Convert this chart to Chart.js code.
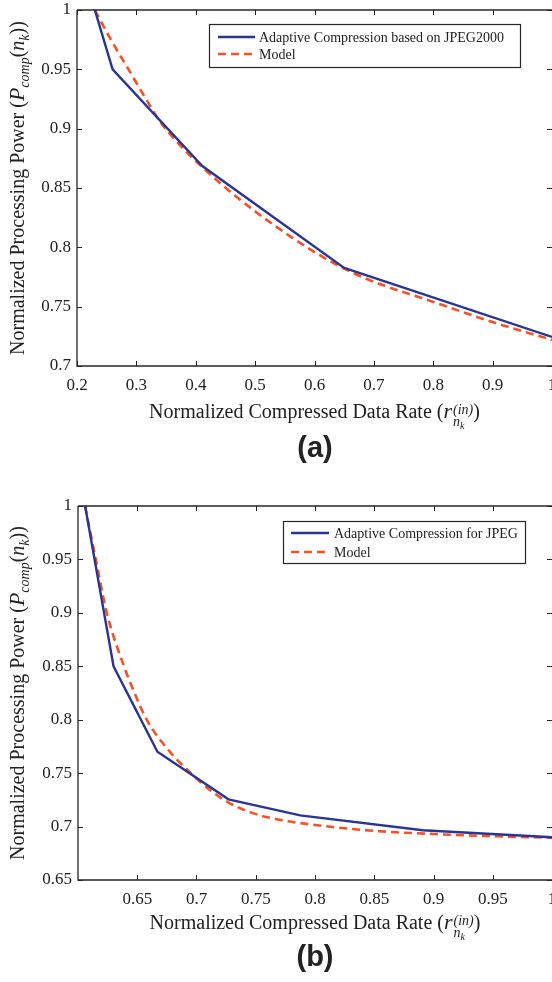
<!DOCTYPE html>
<html>
<head>
<meta charset="utf-8">
<script src="https://cdn.jsdelivr.net/npm/chart.js@4/dist/chart.umd.min.js"></script>
<style>
  html, body { margin: 0; padding: 0; background: #fff; }
  #wrap { position: relative; width: 552px; height: 982px; overflow: hidden; font-family: "Liberation Serif", "DejaVu Serif", serif; color: #222; }
  canvas { position: absolute; left: 0; }
  .xt { position: absolute; text-align: center; font-size: 20px; white-space: nowrap; line-height: 26px; }
  .yt { position: absolute; text-align: center; font-size: 20px; white-space: nowrap; line-height: 26px; transform: rotate(-90deg); }
  .ss { display: inline-block; vertical-align: -8px; line-height: 12px; font-size: 14px; text-align: left; margin-left: 1px; }
  .ss span { display: block; }
  .big { font-size: 22px; }
  sub { font-size: 14px; line-height: 0; }
  .sub2 { font-size: 10px; vertical-align: -3px; }
  .cap { position: absolute; font-family: "Liberation Sans", Arial, sans-serif; font-weight: bold; font-size: 29px; text-align: center; width: 100px; }
</style>
</head>
<body>
<div id="wrap">
  <canvas id="ca" width="552" height="400" style="top:0"></canvas>
  <canvas id="cb" width="552" height="424" style="top:490px"></canvas>

  <div class="yt" style="left:-161px; top:175px; width:356px;">Normalized Processing Power (<i class="big">P</i><sub><i>comp</i></sub>(<i>n</i><sub><i>k</i></sub>))</div>
  <div class="xt" style="left:77px; top:398px; width:475px;">Normalized Compressed Data Rate (<i class="big">r</i><span class="ss"><span><i>(in)</i></span><span><i>n</i><i class="sub2">k</i></span></span>)</div>
  <div class="cap" style="left:265px; top:431px;">(a)</div>

  <div class="yt" style="left:-170px; top:680px; width:374px;">Normalized Processing Power (<i class="big">P</i><sub><i>comp</i></sub>(<i>n</i><sub><i>k</i></sub>))</div>
  <div class="xt" style="left:78px; top:909px; width:474px;">Normalized Compressed Data Rate (<i class="big">r</i><span class="ss"><span><i>(in)</i></span><span><i>n</i><i class="sub2">k</i></span></span>)</div>
  <div class="cap" style="left:265px; top:940px;">(b)</div>
</div>

<script>
// (a) JPEG2000
const adaptA_x = [0.23, 0.26, 0.411, 0.65, 1.0];
const adaptA_y = [1.0, 0.95, 0.8685, 0.7826, 0.7245];
const modelA_x = [0.23, 0.256, 0.289, 0.315, 0.34, 0.37, 0.41, 0.47, 0.531, 0.6, 0.65, 0.7, 0.8, 0.9, 1.0];
const modelA_y = [1.0, 0.976, 0.948, 0.926, 0.906, 0.888, 0.868, 0.842, 0.819, 0.796, 0.782, 0.771, 0.754, 0.737, 0.722];
const xTicksA = ['0.2', '0.3', '0.4', '0.5', '0.6', '0.7', '0.8', '0.9', '1'];
const yTicksA = ['0.7', '0.75', '0.8', '0.85', '0.9', '0.95', '1'];

// (b) JPEG
const adaptB_x = [0.606, 0.63, 0.667, 0.727, 0.7875, 0.891, 1.0];
const adaptB_y = [1.0, 0.85, 0.77, 0.7255, 0.7105, 0.6965, 0.69];
const modelB_x = [0.606, 0.615, 0.6243, 0.6388, 0.6466, 0.658, 0.676, 0.7, 0.714, 0.727, 0.745, 0.767, 0.8, 0.85, 0.9, 0.95, 1.0];
const modelB_y = [1.0, 0.95, 0.9, 0.85, 0.828, 0.8, 0.772, 0.745, 0.732, 0.7225, 0.7135, 0.707, 0.7015, 0.696, 0.693, 0.691, 0.6895];
const xTicksB = ['0.65', '0.7', '0.75', '0.8', '0.85', '0.9', '0.95', '1'];
const yTicksB = ['0.65', '0.7', '0.75', '0.8', '0.85', '0.9', '0.95', '1'];

const BLUE = '#2b3590';
const RED = '#f4532a';
const AXIS = '#262626';

const pts = (xs, ys) => xs.map((x, i) => ({ x, y: ys[i] }));

// matlab style box, inward ticks and boxed legend
const matlabFrame = {
  id: 'matlabFrame',
  afterDraw(chart, args, opts) {
    const { ctx, chartArea: a, scales: { x, y } } = chart;
    ctx.save();
    ctx.strokeStyle = AXIS;
    ctx.lineWidth = 1.3;
    ctx.beginPath();
    ctx.moveTo(a.left, a.top); ctx.lineTo(a.right, a.top);
    ctx.moveTo(a.left, a.top); ctx.lineTo(a.left, a.bottom); ctx.lineTo(a.right, a.bottom);
    ctx.stroke();

    ctx.lineWidth = 1;
    ctx.beginPath();
    x.ticks.forEach(t => {
      const px = Math.round(x.getPixelForValue(t.value)) + 0.5;
      ctx.moveTo(px, a.bottom); ctx.lineTo(px, a.bottom - 5);
      ctx.moveTo(px, a.top); ctx.lineTo(px, a.top + 5);
    });
    y.ticks.forEach(t => {
      const py = Math.round(y.getPixelForValue(t.value)) + 0.5;
      ctx.moveTo(a.left, py); ctx.lineTo(a.left + 5, py);
      ctx.moveTo(a.right, py); ctx.lineTo(a.right - 5, py);
    });
    ctx.stroke();

    // legend
    const L = opts.legend;
    if (L) {
      ctx.fillStyle = '#fff';
      ctx.fillRect(L.left, L.top, L.right - L.left, L.bottom - L.top);
      ctx.strokeStyle = AXIS;
      ctx.lineWidth = 1.2;
      ctx.strokeRect(L.left + 0.5, L.top + 0.5, L.right - L.left, L.bottom - L.top);
      ctx.font = '14px "Liberation Serif", serif';
      ctx.textBaseline = 'middle';
      chart.data.datasets.forEach((ds, i) => {
        const ry = L.rows[i];
        ctx.strokeStyle = ds.borderColor;
        ctx.lineWidth = ds.borderWidth;
        ctx.setLineDash(ds.borderDash || []);
        ctx.beginPath();
        ctx.moveTo(L.lineFrom, ry); ctx.lineTo(L.lineTo, ry);
        ctx.stroke();
        ctx.setLineDash([]);
        ctx.fillStyle = '#222';
        ctx.fillText(ds.label, L.textX, ry + 1);
      });
    }
    ctx.restore();
  }
};

function makeChart(id, cfg) {
  const tickFont = { family: '"Liberation Serif", serif', size: 17 };
  return new Chart(document.getElementById(id), {
    type: 'line',
    data: {
      datasets: [
        { label: cfg.labels[0], data: pts(cfg.ax, cfg.ay), borderColor: BLUE, borderWidth: 2.4, pointRadius: 0, tension: 0 },
        { label: cfg.labels[1], data: pts(cfg.mx, cfg.my), borderColor: RED, borderWidth: 2.6, borderDash: [8, 5], pointRadius: 0, cubicInterpolationMode: 'monotone' }
      ]
    },
    options: {
      responsive: false,
      animation: false,
      devicePixelRatio: 1,
      layout: { padding: { top: cfg.padTop, right: 0, left: 0, bottom: 0 } },
      plugins: {
        legend: { display: false },
        tooltip: { enabled: false },
        matlabFrame: { legend: cfg.legend }
      },
      scales: {
        x: {
          type: 'linear',
          min: cfg.xMin, max: cfg.xMax,
          grid: { display: false, drawTicks: false },
          border: { display: false },
          afterFit: s => { s.height = 34; s.paddingLeft = 0; s.paddingRight = 0; },
          afterBuildTicks: s => { s.ticks = cfg.xTicks.map(v => ({ value: parseFloat(v) })); },
          ticks: { padding: 9, color: '#222', font: tickFont, maxRotation: 0, autoSkip: false,
                   callback: (v, i) => cfg.xTicks[i] }
        },
        y: {
          type: 'linear',
          min: cfg.yMin, max: cfg.yMax,
          grid: { display: false, drawTicks: false },
          border: { display: false },
          afterFit: s => { s.width = cfg.yWidth; s.paddingTop = 0; s.paddingBottom = 0; },
          afterBuildTicks: s => { s.ticks = cfg.yTicks.map(v => ({ value: parseFloat(v) })); },
          ticks: { padding: 6, color: '#222', font: tickFont, autoSkip: false,
                   callback: (v, i) => cfg.yTicks[i] }
        }
      }
    },
    plugins: [matlabFrame]
  });
}

makeChart('ca', {
  labels: ['Adaptive Compression based on JPEG2000', 'Model'],
  ax: adaptA_x, ay: adaptA_y, mx: modelA_x, my: modelA_y,
  xTicks: xTicksA, yTicks: yTicksA,
  xMin: 0.2, xMax: 1, yMin: 0.7, yMax: 1,
  padTop: 10, yWidth: 77,
  legend: { left: 209, top: 24, right: 520, bottom: 67, rows: [37, 54], lineFrom: 218, lineTo: 255, textX: 259 }
});

makeChart('cb', {
  labels: ['Adaptive Compression for JPEG', 'Model'],
  ax: adaptB_x, ay: adaptB_y, mx: modelB_x, my: modelB_y,
  xTicks: xTicksB, yTicks: yTicksB,
  xMin: 0.6, xMax: 1, yMin: 0.65, yMax: 1,
  padTop: 16, yWidth: 78,
  legend: { left: 283, top: 31, right: 525, bottom: 73, rows: [43, 62], lineFrom: 291, lineTo: 329, textX: 334 }
});
</script>
</body>
</html>
